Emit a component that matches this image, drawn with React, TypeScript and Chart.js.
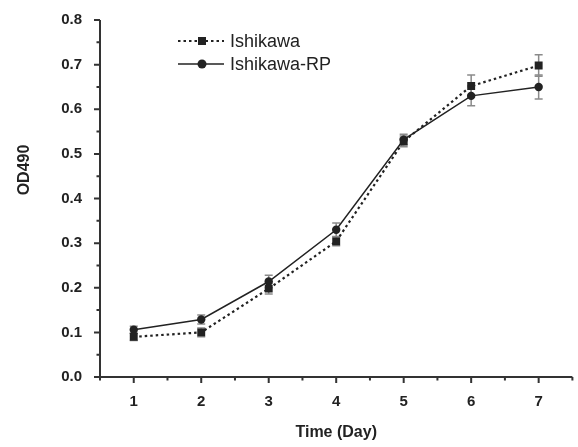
import React, { useEffect, useRef } from "react";
import { Chart, registerables } from "chart.js";

Chart.register(...registerables);

const DAYS = [1, 2, 3, 4, 5, 6, 7];
const X_MINOR = [0.5, 1.5, 2.5, 3.5, 4.5, 5.5, 6.5, 7.5];
const Y_TICKS = [0, 0.1, 0.2, 0.3, 0.4, 0.5, 0.6, 0.7, 0.8];
const Y_MINOR = [0.05, 0.15, 0.25, 0.35, 0.45, 0.55, 0.65, 0.75];

const ISHIKAWA = [0.09, 0.1, 0.198, 0.304, 0.528, 0.652, 0.698];
const ISHIKAWA_ERR = [0.008, 0.01, 0.012, 0.01, 0.012, 0.025, 0.024];
const ISHIKAWA_RP = [0.106, 0.129, 0.214, 0.33, 0.532, 0.63, 0.65];
const ISHIKAWA_RP_ERR = [0.008, 0.01, 0.014, 0.015, 0.012, 0.022, 0.027];

const SERIES_NAMES = ["Ishikawa", "Ishikawa-RP"];
const X_TITLE = "Time (Day)";
const Y_TITLE = "OD490";

const FONT = "'Liberation Sans', Arial, sans-serif";
const INK = "#222";

const errorBarPlugin = {
  id: "errorBars",
  beforeDatasetsDraw(chart: any) {
    const ctx = chart.ctx;
    const xs = chart.scales.x;
    const ys = chart.scales.y;
    const errs = [ISHIKAWA_ERR, ISHIKAWA_RP_ERR];
    const vals = [ISHIKAWA, ISHIKAWA_RP];
    ctx.save();
    ctx.strokeStyle = "#8a8a8a";
    ctx.lineWidth = 1.5;
    vals.forEach((arr, si) => {
      arr.forEach((v, i) => {
        const x = xs.getPixelForValue(DAYS[i]);
        const yTop = ys.getPixelForValue(v + errs[si][i]);
        const yBot = ys.getPixelForValue(v - errs[si][i]);
        ctx.beginPath();
        ctx.moveTo(x, yTop);
        ctx.lineTo(x, yBot);
        ctx.moveTo(x - 4, yTop);
        ctx.lineTo(x + 4, yTop);
        ctx.moveTo(x - 4, yBot);
        ctx.lineTo(x + 4, yBot);
        ctx.stroke();
      });
    });
    ctx.restore();
  },
};

const axesPlugin = {
  id: "customAxes",
  afterDraw(chart: any) {
    const ctx = chart.ctx;
    const xs = chart.scales.x;
    const ys = chart.scales.y;
    const { left, right, top, bottom } = chart.chartArea;
    ctx.save();
    ctx.strokeStyle = "#333";
    ctx.lineWidth = 2;
    ctx.beginPath();
    ctx.moveTo(left, top);
    ctx.lineTo(left, bottom);
    ctx.moveTo(left - 1, bottom);
    ctx.lineTo(right, bottom);
    Y_TICKS.forEach((v) => {
      const y = ys.getPixelForValue(v);
      ctx.moveTo(left, y);
      ctx.lineTo(left - 6, y);
    });
    Y_MINOR.forEach((v) => {
      const y = ys.getPixelForValue(v);
      ctx.moveTo(left, y);
      ctx.lineTo(left - 3.5, y);
    });
    DAYS.forEach((v) => {
      const x = xs.getPixelForValue(v);
      ctx.moveTo(x, bottom);
      ctx.lineTo(x, bottom + 6);
    });
    X_MINOR.forEach((v) => {
      const x = xs.getPixelForValue(v);
      ctx.moveTo(x, bottom);
      ctx.lineTo(x, bottom + 3.5);
    });
    ctx.stroke();

    // y-axis title
    ctx.fillStyle = INK;
    ctx.font = `bold 16px ${FONT}`;
    ctx.textAlign = "center";
    ctx.textBaseline = "middle";
    ctx.translate(25, 170);
    ctx.rotate(-Math.PI / 2);
    ctx.fillText(Y_TITLE, 0, 0);
    ctx.restore();
  },
};

const legendPlugin = {
  id: "customLegend",
  afterDraw(chart: any) {
    const ctx = chart.ctx;
    const rows = [
      { y: 41, dash: [2.5, 3], width: 2.2, style: "rect" },
      { y: 64, dash: [], width: 1.5, style: "circle" },
    ];
    ctx.save();
    rows.forEach((r, i) => {
      ctx.strokeStyle = INK;
      ctx.lineWidth = r.width;
      ctx.setLineDash(r.dash);
      ctx.beginPath();
      ctx.moveTo(178, r.y);
      ctx.lineTo(224, r.y);
      ctx.stroke();
      ctx.setLineDash([]);
      ctx.fillStyle = INK;
      if (r.style === "rect") {
        ctx.fillRect(202 - 4, r.y - 4, 8, 8);
      } else {
        ctx.beginPath();
        ctx.arc(202, r.y, 4.5, 0, Math.PI * 2);
        ctx.fill();
      }
      ctx.font = `18px ${FONT}`;
      ctx.textAlign = "left";
      ctx.textBaseline = "middle";
      ctx.fillText(SERIES_NAMES[i], 230, r.y + 1);
    });
    ctx.restore();
  },
};

export default function App() {
  const ref = useRef<HTMLCanvasElement | null>(null);

  useEffect(() => {
    document.body.style.margin = "0";
    const canvas = ref.current;
    if (!canvas) return;
    const chart = new Chart(canvas, {
      type: "line",
      data: {
        datasets: [
          {
            label: SERIES_NAMES[0],
            data: DAYS.map((d, i) => ({ x: d, y: ISHIKAWA[i] })),
            borderColor: INK,
            backgroundColor: INK,
            borderWidth: 2.2,
            borderDash: [2.5, 3],
            pointStyle: "rect",
            pointRadius: 5.6,
            pointBorderWidth: 0,
            tension: 0,
          },
          {
            label: SERIES_NAMES[1],
            data: DAYS.map((d, i) => ({ x: d, y: ISHIKAWA_RP[i] })),
            borderColor: INK,
            backgroundColor: INK,
            borderWidth: 1.5,
            pointStyle: "circle",
            pointRadius: 4.2,
            pointBorderWidth: 0,
            tension: 0,
          },
        ],
      },
      options: {
        responsive: false,
        animation: false,
        layout: { padding: { top: 20, right: 2, left: 0, bottom: 0 } },
        plugins: {
          legend: { display: false },
          tooltip: { enabled: false },
        },
        scales: {
          x: {
            type: "linear",
            min: 0.5,
            max: 7.5,
            grid: { display: false },
            border: { display: false },
            afterBuildTicks: (scale: any) => {
              scale.ticks = DAYS.map((v) => ({ value: v }));
            },
            afterFit: (scale: any) => {
              scale.height = 70;
            },
            ticks: {
              padding: 8,
              color: INK,
              font: { family: FONT, size: 15, weight: "bold" },
              maxRotation: 0,
              callback: (v: any) => String(v),
            },
            title: {
              display: true,
              text: X_TITLE,
              color: INK,
              font: { family: FONT, size: 16, weight: "bold" },
              padding: { top: 0, bottom: 5 },
            },
          },
          y: {
            type: "linear",
            min: 0,
            max: 0.8,
            grid: { display: false },
            border: { display: false },
            afterBuildTicks: (scale: any) => {
              scale.ticks = Y_TICKS.map((v) => ({ value: v }));
            },
            afterFit: (scale: any) => {
              scale.width = 100;
            },
            ticks: {
              padding: 10,
              color: INK,
              font: { family: FONT, size: 15, weight: "bold" },
              callback: (v: any) => Number(v).toFixed(1),
            },
          },
        },
      },
      plugins: [errorBarPlugin, axesPlugin, legendPlugin],
    } as any);
    return () => chart.destroy();
  }, []);

  return (
    <div style={{ width: 578, height: 447 }}>
      <canvas ref={ref} width={578} height={447} style={{ display: "block" }} />
    </div>
  );
}
